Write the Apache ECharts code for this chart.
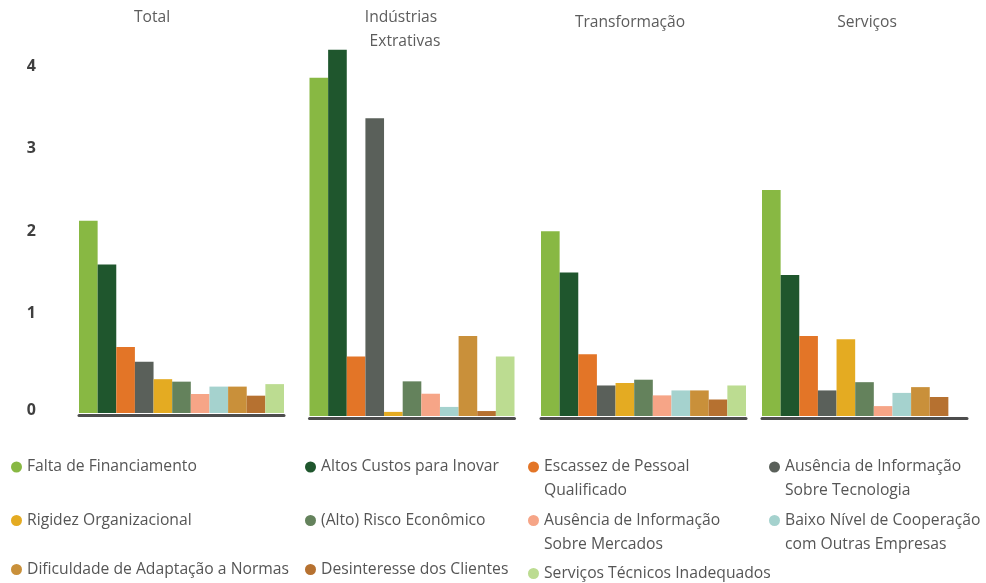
<!DOCTYPE html>
<html>
<head>
<meta charset="utf-8">
<script src="https://cdn.jsdelivr.net/npm/echarts@6/dist/echarts.min.js"></script>
<style>
html,body{margin:0;padding:0;background:#fff;}
#chart{width:986px;height:583px;}
</style>
</head>
<body>
<div id="chart"></div>
<script>
// ---- data ----
const panels = ['Total', 'Indústrias Extrativas', 'Transformação', 'Serviços'];
const factors = [
  'Falta de Financiamento',
  'Altos Custos para Inovar',
  'Escassez de Pessoal Qualificado',
  'Ausência de Informação Sobre Tecnologia',
  'Rigidez Organizacional',
  '(Alto) Risco Econômico',
  'Ausência de Informação Sobre Mercados',
  'Baixo Nível de Cooperação com Outras Empresas',
  'Dificuldade de Adaptação a Normas',
  'Desinteresse dos Clientes',
  'Serviços Técnicos Inadequados'
];
const colors = ['#88b843','#1f562d','#e37527','#5a605a','#e4ab22','#64825c','#f6a587','#a5d2ce','#c9903a','#b67130','#bcdc91'];
const totalValues        = [2.33, 1.80, 0.80, 0.62, 0.41, 0.38, 0.23, 0.32, 0.32, 0.21, 0.35];
const extrativasValues   = [4.10, 4.44, 0.72, 3.61, 0.05, 0.42, 0.27, 0.11, 0.97, 0.06, 0.72];
const transformacaoValues= [2.24, 1.74, 0.75, 0.37, 0.40, 0.44, 0.25, 0.31, 0.31, 0.20, 0.37];
const servicosValues     = [2.74, 1.71, 0.97, 0.31, 0.93, 0.41, 0.12, 0.28, 0.35, 0.23, 0];
const yTicks = [0, 1, 2, 3, 4];
const legendLines = {
  'Escassez de Pessoal Qualificado': ['Escassez de Pessoal', 'Qualificado'],
  'Ausência de Informação Sobre Tecnologia': ['Ausência de Informação', 'Sobre Tecnologia'],
  'Ausência de Informação Sobre Mercados': ['Ausência de Informação', 'Sobre Mercados'],
  'Baixo Nível de Cooperação com Outras Empresas': ['Baixo Nível de Cooperação', 'com Outras Empresas']
};

// ---- layout ----
const panelData = [totalValues, extrativasValues, transformacaoValues, servicosValues];
const FONT = 'Open Sans';
const gridLefts = [79, 309.5, 541, 762];
const baselines = [413, 416, 416, 416];
const pxPerUnit = 82.5;
const yMax = 4.5;

const grids = gridLefts.map((l, i) => ({
  left: l, width: 205,
  top: baselines[i] - pxPerUnit * yMax,
  height: pxPerUnit * yMax
}));

const xAxes = gridLefts.map((l, i) => ({
  type: 'category', gridIndex: i, data: [''],
  axisTick: {show: false}, axisLabel: {show: false},
  axisLine: {onZero: false, lineStyle: {color: '#4d4d4d', width: 3}},
  offset: 2.5
}));

const digit = {fontFamily: FONT, fontSize: 16, fontWeight: 'bold', color: '#3f3f3f'};
const yAxes = [
  {type: 'value', gridIndex: 0, min: 0, max: yMax, interval: 1,
   axisLine: {show: false}, axisTick: {show: false}, splitLine: {show: false},
   axisLabel: {margin: 43,
     formatter: v => (yTicks.indexOf(v) < 0 ? '' : (v === 0 ? '{z|' + v + '}' : '{n|' + v + '}')),
     rich: {
       n: Object.assign({}, digit, {padding: [0, 0, 34, 0]}),
       z: Object.assign({}, digit, {padding: [0, 0, 5, 0]})
     }}}
];
for (let i = 1; i < 4; i++) {
  yAxes.push({type: 'value', gridIndex: i, min: 0, max: yMax, interval: 1, show: false, splitLine: {show: false}});
}
const yIndexForGrid = [0, 1, 2, 3];

const series = [];
factors.forEach((f, fi) => {
  panelData.forEach((vals, pi) => {
    series.push({
      type: 'bar', name: f,
      xAxisIndex: pi, yAxisIndex: yIndexForGrid[pi],
      data: [vals[fi]],
      barGap: '0%', barCategoryGap: '0%',
      itemStyle: {color: colors[fi]},
      emphasis: {disabled: true},
      silent: true
    });
  });
});

const titleStyle = {fontFamily: FONT, fontSize: 15.6, fontWeight: 'normal', color: '#5c5c5c', lineHeight: 18};
const titles = [
  {text: 'Total', left: 152, top: 9},
  {text: 'Indústrias', left: 401, top: 9},
  {text: 'Extrativas', left: 405, top: 33},
  {text: 'Transformação', left: 630, top: 14},
  {text: 'Serviços', left: 867, top: 14}
].map(t => Object.assign(t, {textAlign: 'center', padding: 0, textStyle: titleStyle}));

const colLefts = [11, 305, 528, 769];
const rowCenters = [467, 520.5, 569.5];
const legends = factors.map((f, i) => {
  const col = i % 4, row = Math.floor(i / 4);
  const two = !!legendLines[f];
  let c = rowCenters[row];
  if (row === 2 && col === 2) c = 573.5;
  return {
    data: [{name: f, icon: 'circle'}],
    left: colLefts[col],
    top: two ? c - 36 : c - 12,
    padding: 0,
    itemWidth: 11, itemHeight: 11,
    selectedMode: false,
    formatter: n => legendLines[n] ? ' \n' + legendLines[n].join('\n') : n,
    textStyle: {fontFamily: FONT, fontSize: 15.7, color: '#555555', lineHeight: 24}
  };
});

const chart = echarts.init(document.getElementById('chart'), null, {renderer: 'canvas'});
chart.setOption({
  animation: false,
  backgroundColor: '#ffffff',
  title: titles,
  grid: grids,
  xAxis: xAxes,
  yAxis: yAxes,
  legend: legends,
  series: series
});
</script>
</body>
</html>
